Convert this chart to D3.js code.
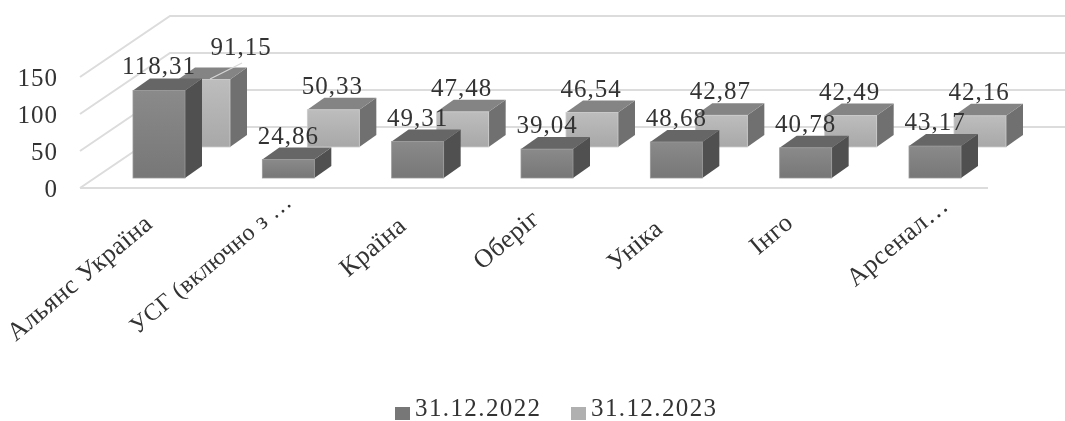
<!DOCTYPE html>
<html>
<head>
<meta charset="utf-8">
<script src="https://cdn.jsdelivr.net/npm/d3@7"></script>
<style>
  html, body { margin: 0; padding: 0; background: #fff; }
  svg { display: block; filter: blur(0.6px); }
  text { font-family: "Liberation Serif", serif; fill: #333; }
</style>
</head>
<body>
<script>
// дані
const categories = ["Альянс Україна", "УСГ (включно з …", "Країна", "Оберіг", "Уніка", "Інго", "Арсенал…"];
const series2022 = [118.31, 24.86, 49.31, 39.04, 48.68, 40.78, 43.17];
const series2023 = [91.15, 50.33, 47.48, 46.54, 42.87, 42.49, 42.16];
const seriesNames = ["31.12.2022", "31.12.2023"];
const yTicks = [0, 50, 100, 150];

const width = 1065, height = 421;

const frontFloor = 188, backFloor = 127;   // лінії підлоги
const wallLeft = 80, wallBack = 170;
const barW = 52, depthX = 17, depthY = 12;

// зсуви підписів категорій
const catLabelDx = [21, 31, 16, 20, 14, 15, 41];
const catLabelY = [226, 204, 228, 221, 231, 225, 208];
const catLabelSize = [26, 24, 26, 26, 26, 26, 26];

const colors = [
  { face: "url(#face1)", top: "#666", side: "#505050", edge: "#999", swatch: "#777" },
  { face: "url(#face2)", top: "#848484", side: "#707070", edge: "#ccc", swatch: "#b0b0b0" }
];

const svg = d3.select("body").append("svg")
  .attr("width", width)
  .attr("height", height);

const defs = svg.append("defs");
[["face1", "#8a8a8a", "#777"], ["face2", "#bdbdbd", "#a8a8a8"]].forEach(g => {
  const lg = defs.append("linearGradient").attr("id", g[0])
    .attr("x1", 0).attr("y1", 0).attr("x2", 0).attr("y2", 1);
  lg.append("stop").attr("offset", 0).attr("stop-color", g[1]);
  lg.append("stop").attr("offset", 1).attr("stop-color", g[2]);
});

// шкали
const h = d3.scaleLinear().domain([0, 150]).range([0, 111]);
const yAxisScale = d3.scaleLinear().domain([0, 150]).range([frontFloor, frontFloor - 111]);
const x = d3.scalePoint().domain(categories).range([133, 909]);

// сітка
const grid = svg.append("g").attr("stroke", "#dcdcdc").attr("stroke-width", 2).attr("fill", "none");
grid.selectAll("path")
  .data(yTicks)
  .enter().append("path")
  .attr("d", d => `M${wallLeft},${frontFloor - h(d)}L${wallBack},${backFloor - h(d)}L${width},${backFloor - h(d)}`);
grid.append("line")
  .attr("x1", wallLeft).attr("x2", 988)
  .attr("y1", frontFloor).attr("y2", frontFloor);

// вісь Y
const yAxis = svg.append("g")
  .attr("transform", "translate(62,0)")
  .call(d3.axisLeft(yAxisScale).tickValues(yTicks).tickSize(0).tickPadding(4).tickFormat(d3.format("d")));
yAxis.select(".domain").remove();
yAxis.selectAll("text")
  .style("font-family", "'Liberation Serif', serif")
  .style("font-size", "25px")
  .style("letter-spacing", "1px")
  .attr("fill", "#333");

function drawBars(values, c, offsetX, floorY) {
  const g = svg.append("g").selectAll("g")
    .data(values.map((v, i) => ({ v: v, cat: categories[i] })))
    .enter().append("g");
  const left = d => x(d.cat) + offsetX;
  const topY = d => floorY - h(d.v);

  g.append("path")
    .attr("fill", c.side)
    .attr("d", d => `M${left(d) + barW},${topY(d)}l${depthX},${-depthY}V${floorY - depthY}l${-depthX},${depthY}Z`);
  g.append("path")
    .attr("fill", c.top)
    .attr("d", d => `M${left(d)},${topY(d)}l${depthX},${-depthY}h${barW}l${-depthX},${depthY}Z`);
  g.append("rect")
    .attr("x", left)
    .attr("y", topY)
    .attr("width", barW)
    .attr("height", d => h(d.v))
    .attr("fill", c.face)
    .attr("stroke", c.edge)
    .attr("stroke-width", 0.8);
}

// задній ряд, потім передній
drawBars(series2023, colors[1], 45, 147);
drawBars(series2022, colors[0], 0, 178);

// виноска для 91,15
svg.append("line")
  .attr("x1", 210).attr("y1", 79).attr("x2", 242).attr("y2", 63)
  .attr("stroke", "#d8d8d8").attr("stroke-width", 1.2);

function drawLabels(values, offsetX, floorY, moved) {
  svg.append("g").selectAll("text")
    .data(values.map((v, i) => ({ v: v, i: i })))
    .enter().append("text")
    .attr("x", d => x(categories[d.i]) + offsetX + barW / 2 + (moved && d.i === 0 ? 38 : 0))
    .attr("y", d => floorY - h(d.v) - 16 - (moved && d.i === 0 ? 9 : 0))
    .attr("text-anchor", "middle")
    .style("font-size", "25px")
    .style("letter-spacing", "1px")
    .text(d => d.v.toFixed(2).replace(".", ","));
}
drawLabels(series2023, 44, 147, true);
drawLabels(series2022, 0, 178, false);

// підписи категорій
svg.append("g").selectAll("text")
  .data(categories)
  .enter().append("text")
  .attr("transform", (d, i) => `translate(${x(d) + catLabelDx[i]},${catLabelY[i]}) rotate(-40)`)
  .attr("text-anchor", "end")
  .style("font-size", (d, i) => catLabelSize[i] + "px")
  .style("letter-spacing", "0.5px")
  .text(d => d);

// легенда
const legend = svg.append("g");
const legendX = [395, 571];
seriesNames.forEach((name, i) => {
  legend.append("rect")
    .attr("x", legendX[i]).attr("y", 407)
    .attr("width", 15).attr("height", 13)
    .attr("fill", colors[i].swatch);
  legend.append("text")
    .attr("x", legendX[i] + 20).attr("y", 416)
    .style("font-size", "25px")
    .style("letter-spacing", "1.4px")
    .text(name);
});
</script>
</body>
</html>
